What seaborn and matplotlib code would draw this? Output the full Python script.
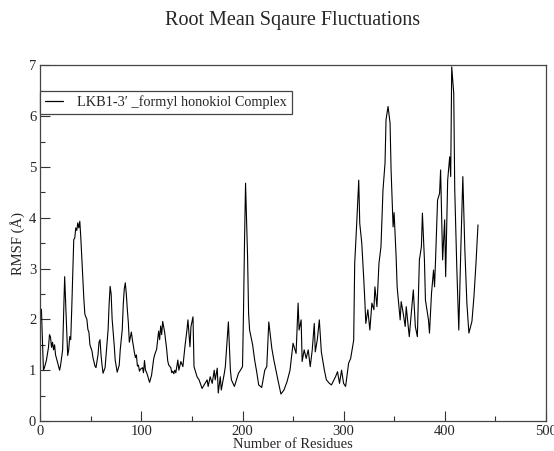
import numpy as np
import pandas as pd
import matplotlib
matplotlib.use("Agg")
import matplotlib.pyplot as plt
from matplotlib.ticker import MultipleLocator
import seaborn as sns

residues = [1, 2, 3, 4, 6, 8, 9, 10, 11, 12, 13, 14, 15, 17, 19, 20, 22, 23, 24, 25,
            26, 27, 28, 29, 30, 31, 32, 33, 34, 35, 36, 37, 38, 39, 40, 41, 42, 43, 44, 46,
            47, 48, 49, 51, 52, 54, 55, 57, 58, 59, 60, 61, 62, 64, 65, 67, 68, 69, 70, 71,
            73, 74, 76, 78, 79, 81, 82, 83, 84, 85, 86, 87, 88, 89, 90, 91, 92, 93, 94, 95,
            96, 97, 98, 99, 101, 102, 103, 104, 105, 106, 108, 110, 112, 113, 115, 116, 117, 118, 119, 120,
            121, 122, 123, 125, 126, 127, 129, 130, 131, 132, 133, 134, 136, 137, 139, 141, 143, 145, 146, 148,
            149, 151, 152, 155, 157, 160, 162, 165, 166, 168, 170, 172, 173, 175, 176, 178, 179, 182, 183, 185,
            186, 188, 189, 192, 194, 196, 198, 200, 201, 202, 203, 204, 205, 206, 207, 210, 212, 214, 216, 219,
            222, 224, 226, 229, 231, 235, 238, 241, 244, 247, 250, 253, 255, 256, 258, 259, 261, 263, 265, 267,
            269, 271, 272, 274, 276, 278, 281, 283, 286, 288, 292, 294, 296, 298, 300, 302, 305, 307, 310, 311,
            313, 315, 316, 318, 320, 321, 322, 324, 326, 328, 330, 331, 333, 335, 337, 339, 341, 342, 344, 346,
            347, 348, 349, 350, 352, 353, 356, 357, 359, 361, 362, 365, 367, 369, 371, 373, 375, 377, 378, 380,
            381, 384, 385, 387, 389, 390, 391, 393, 395, 396, 398, 400, 401, 403, 405, 406, 407, 409, 410, 412,
            414, 416, 418, 420, 422, 424, 427, 429, 431, 433]

rmsf = [2.2, 1.6, 1.0, 1.05, 1.2, 1.45, 1.7, 1.65, 1.45, 1.55, 1.4, 1.5, 1.3, 1.15, 1.0, 1.1, 1.4, 2.1, 2.84, 2.3,
        1.8, 1.29, 1.4, 1.66, 1.6, 2.2, 2.9, 3.57, 3.6, 3.8, 3.75, 3.9, 3.8, 3.93, 3.6, 3.2, 2.78, 2.4, 2.1, 2.0,
        1.8, 1.75, 1.5, 1.38, 1.25, 1.08, 1.05, 1.3, 1.55, 1.6, 1.3, 1.1, 0.94, 1.05, 1.3, 1.8, 2.3, 2.65, 2.5, 2.0,
        1.5, 1.2, 0.96, 1.1, 1.4, 1.8, 2.3, 2.6, 2.72, 2.5, 2.2, 1.94, 1.55, 1.65, 1.75, 1.6, 1.47, 1.35, 1.25, 1.3,
        1.08, 1.1, 0.98, 1.02, 1.05, 0.95, 1.19, 1.0, 0.96, 0.9, 0.76, 0.9, 1.21, 1.3, 1.41, 1.6, 1.77, 1.6, 1.87, 1.7,
        1.96, 1.85, 1.74, 1.4, 1.18, 1.1, 1.05, 0.95, 0.98, 0.93, 1.0, 0.95, 1.2, 1.0, 1.17, 1.07, 1.46, 1.79, 1.99, 1.46,
        1.86, 2.05, 1.07, 0.87, 0.81, 0.64, 0.71, 0.81, 0.68, 0.87, 0.74, 1.0, 0.81, 1.04, 0.55, 0.87, 0.61, 0.94, 1.07, 1.66,
        1.95, 1.0, 0.81, 0.68, 0.81, 0.94, 1.0, 1.07, 2.19, 3.56, 4.68, 3.96, 3.23, 2.12, 1.79, 1.5, 1.2, 0.97, 0.71, 0.66,
        1.0, 1.07, 1.95, 1.43, 1.2, 0.81, 0.53, 0.61, 0.77, 1.0, 1.53, 1.33, 2.32, 1.79, 1.99, 1.17, 1.4, 1.23, 1.4, 1.07,
        1.4, 1.92, 1.36, 1.6, 1.99, 1.36, 1.0, 0.81, 0.74, 0.71, 0.87, 0.97, 0.74, 1.0, 0.74, 0.68, 1.14, 1.23, 1.59, 3.1,
        3.89, 4.74, 3.89, 3.5, 2.78, 2.38, 1.92, 2.19, 1.79, 2.32, 2.19, 2.64, 2.25, 3.1, 3.43, 4.55, 5.07, 5.93, 6.19, 5.86,
        4.94, 4.35, 3.82, 4.1, 3.23, 2.64, 1.99, 2.35, 2.12, 1.86, 2.25, 1.66, 2.12, 2.58, 1.86, 1.66, 3.17, 3.43, 4.09, 3.17,
        2.38, 1.99, 1.73, 2.51, 2.97, 2.64, 3.17, 4.35, 4.48, 4.94, 3.17, 3.96, 2.84, 4.74, 5.2, 4.81, 6.97, 6.45, 4.55, 3.04,
        1.79, 3.37, 4.81, 3.37, 2.32, 1.73, 1.96, 2.45, 3.1, 3.86]

series_label = "LKB1-3\u2032 _formyl honokiol Complex"
title = "Root Mean Sqaure Fluctuations"
xlabel = "Number of Residues"
ylabel = "RMSF (\u00c5)"

df = pd.DataFrame({"Residue": residues, "RMSF": rmsf, "series": series_label})

sns.set_style("ticks")
plt.rcParams["font.family"] = ["Liberation Serif", "DejaVu Serif"]

W, H = 554, 451
fig = plt.figure(figsize=(W / 100, H / 100), dpi=100)
ax = fig.add_axes([40.4 / W, 1 - 421 / H, (545.7 - 40.4) / W, (421 - 65.3) / H])

sns.lineplot(data=df, x="Residue", y="RMSF", hue="series", palette=["black"],
             sort=False, estimator=None, linewidth=0.8, ax=ax)

ax.set_xlim(0, 500)
ax.set_ylim(0, 7)
ax.xaxis.set_major_locator(MultipleLocator(100))
ax.xaxis.set_minor_locator(MultipleLocator(50))
ax.yaxis.set_major_locator(MultipleLocator(1))
ax.yaxis.set_minor_locator(MultipleLocator(0.5))
ax.tick_params(which="both", direction="in", top=False, right=False, color="#333333", width=0.8)
ax.tick_params(which="major", length=7.2, labelsize=10.5, pad=3)
ax.tick_params(which="minor", length=3.6)
for s in ax.spines.values():
    s.set_visible(True)
    s.set_color("#444444")
    s.set_linewidth(0.9)

ax.set_xlabel(xlabel, fontsize=10.5, labelpad=0)
ax.set_ylabel(ylabel, fontsize=10.5, labelpad=3)

leg = ax.legend(loc="upper left", bbox_to_anchor=(0.0, 0.929), frameon=True, fancybox=False,
                fontsize=10.3, handlelength=1.25, handletextpad=0.95, borderpad=0.35,
                borderaxespad=0.0, labelspacing=0.2)
leg.get_frame().set_edgecolor("#444444")
leg.get_frame().set_linewidth(0.9)
leg.get_frame().set_alpha(1)
for l in leg.get_lines():
    l.set_linewidth(0.9)

fig.text((40.4 + 545.7) / 2 / W, 1 - 21 / H, title, ha="center", va="center", fontsize=14.5)

fig.savefig("out.png", dpi=100)
